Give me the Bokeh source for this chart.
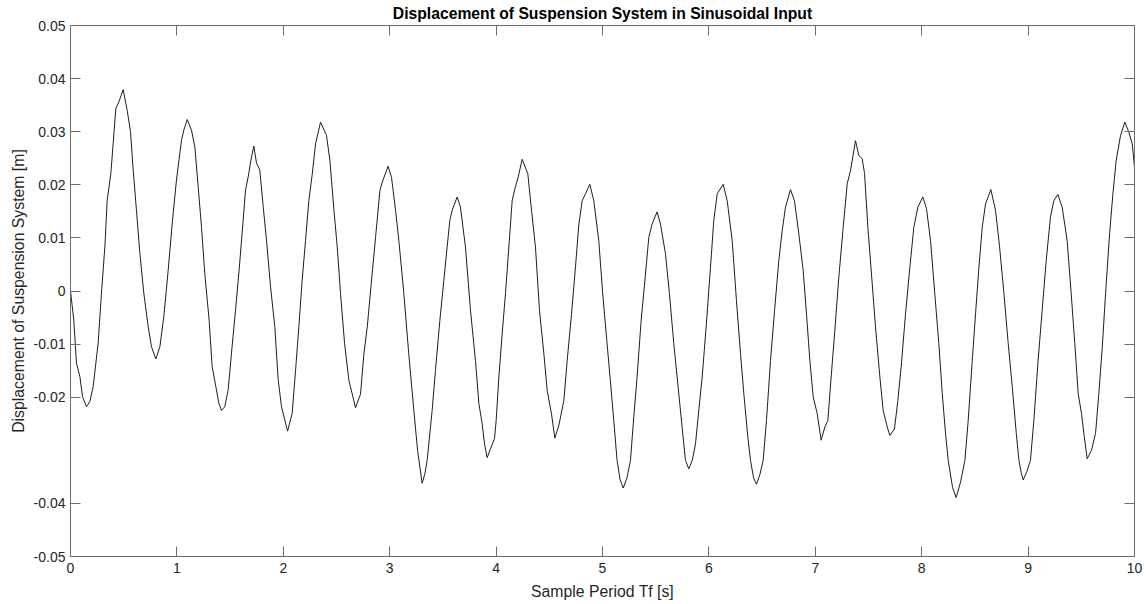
from bokeh.plotting import figure
from bokeh.models import Range1d, LinearAxis, FixedTicker, CustomLabelingPolicy
from bokeh.embed import file_html
from bokeh.resources import INLINE

title_text = "Displacement of Suspension System in Sinusoidal Input"
x_label = "Sample Period Tf [s]"
y_label = "Displacement of Suspension System [m]"

x_ticks = [0, 1, 2, 3, 4, 5, 6, 7, 8, 9, 10]
x_tick_labels = ["0", "1", "2", "3", "4", "5", "6", "7", "8", "9", "10"]
y_ticks = [-0.05, -0.04, -0.02, -0.01, 0.0, 0.01, 0.02, 0.03, 0.04, 0.05]
y_tick_labels = ["-0.05", "-0.04", "-0.02", "-0.01", "0", "0.01", "0.02", "0.03", "0.04", "0.05"]

time_s = [
    0.000, 0.031, 0.056, 0.088, 0.113, 0.150, 0.182, 0.213, 0.260, 0.291,
    0.323, 0.345, 0.379, 0.401, 0.426, 0.454, 0.495, 0.533, 0.564, 0.589,
    0.620, 0.652, 0.689, 0.730, 0.761, 0.802, 0.840, 0.877, 0.918, 0.959,
    0.996, 1.043, 1.065, 1.097, 1.137, 1.169, 1.200, 1.231, 1.262, 1.303,
    1.331, 1.366, 1.394, 1.419, 1.450, 1.482, 1.513, 1.551, 1.585, 1.623,
    1.645, 1.670, 1.695, 1.723, 1.748, 1.779, 1.811, 1.842, 1.880, 1.920,
    1.952, 1.983, 2.040, 2.083, 2.115, 2.146, 2.177, 2.209, 2.240, 2.272,
    2.303, 2.350, 2.406, 2.438, 2.476, 2.507, 2.538, 2.576, 2.617, 2.648,
    2.679, 2.726, 2.757, 2.789, 2.826, 2.867, 2.908, 2.930, 2.985, 3.017,
    3.055, 3.086, 3.133, 3.179, 3.227, 3.262, 3.305, 3.330, 3.352, 3.399,
    3.430, 3.471, 3.509, 3.540, 3.565, 3.587, 3.634, 3.665, 3.712, 3.759,
    3.806, 3.838, 3.869, 3.891, 3.916, 3.948, 3.985, 4.000, 4.026, 4.057,
    4.088, 4.120, 4.151, 4.176, 4.207, 4.245, 4.298, 4.333, 4.370, 4.408,
    4.449, 4.480, 4.521, 4.552, 4.590, 4.637, 4.668, 4.709, 4.746, 4.778,
    4.809, 4.840, 4.881, 4.918, 4.965, 5.002, 5.043, 5.074, 5.106, 5.137,
    5.165, 5.194, 5.230, 5.263, 5.294, 5.325, 5.363, 5.404, 5.435, 5.466,
    5.513, 5.545, 5.592, 5.629, 5.670, 5.711, 5.748, 5.780, 5.811, 5.845,
    5.874, 5.905, 5.937, 5.974, 6.015, 6.046, 6.078, 6.134, 6.172, 6.219,
    6.259, 6.297, 6.328, 6.366, 6.391, 6.420, 6.447, 6.480, 6.510, 6.541,
    6.579, 6.617, 6.657, 6.689, 6.720, 6.767, 6.804, 6.845, 6.886, 6.917,
    6.949, 6.980, 7.018, 7.055, 7.090, 7.118, 7.149, 7.181, 7.221, 7.262,
    7.300, 7.331, 7.378, 7.409, 7.441, 7.463, 7.494, 7.528, 7.566, 7.607,
    7.638, 7.676, 7.701, 7.744, 7.776, 7.807, 7.848, 7.889, 7.926, 7.964,
    8.011, 8.045, 8.083, 8.123, 8.161, 8.193, 8.224, 8.249, 8.290, 8.324,
    8.365, 8.406, 8.437, 8.475, 8.506, 8.538, 8.569, 8.600, 8.650, 8.694,
    8.732, 8.773, 8.813, 8.851, 8.889, 8.914, 8.935, 8.954, 8.988, 9.022,
    9.054, 9.094, 9.132, 9.170, 9.210, 9.242, 9.279, 9.320, 9.367, 9.405,
    9.439, 9.471, 9.502, 9.524, 9.555, 9.596, 9.634, 9.665, 9.697, 9.728,
    9.766, 9.797, 9.828, 9.869, 9.909, 9.947, 9.979, 10.000,
]

displacement_m = [
    0.0000, -0.0055, -0.0136, -0.0161, -0.0199, -0.0218, -0.0208, -0.0180, -0.0098, -0.0004,
    0.0083, 0.0171, 0.0221, 0.0278, 0.0344, 0.0356, 0.0379, 0.0340, 0.0300, 0.0228,
    0.0152, 0.0071, -0.0004, -0.0067, -0.0105, -0.0128, -0.0105, -0.0048, 0.0039, 0.0134,
    0.0209, 0.0284, 0.0303, 0.0323, 0.0303, 0.0271, 0.0196, 0.0121, 0.0033, -0.0055,
    -0.0142, -0.0180, -0.0211, -0.0225, -0.0218, -0.0186, -0.0117, -0.0036, 0.0040, 0.0134,
    0.0190, 0.0215, 0.0246, 0.0273, 0.0241, 0.0228, 0.0159, 0.0096, 0.0008, -0.0067,
    -0.0167, -0.0218, -0.0264, -0.0231, -0.0150, -0.0068, 0.0020, 0.0095, 0.0170, 0.0220,
    0.0277, 0.0318, 0.0293, 0.0246, 0.0152, 0.0083, -0.0005, -0.0099, -0.0169, -0.0194,
    -0.0220, -0.0194, -0.0119, -0.0068, 0.0013, 0.0101, 0.0189, 0.0205, 0.0235, 0.0214,
    0.0152, 0.0095, -0.0005, -0.0118, -0.0225, -0.0300, -0.0362, -0.0345, -0.0319, -0.0225,
    -0.0150, -0.0056, 0.0020, 0.0083, 0.0133, 0.0152, 0.0177, 0.0158, 0.0083, -0.0036,
    -0.0131, -0.0212, -0.0250, -0.0288, -0.0314, -0.0297, -0.0278, -0.0245, -0.0162, -0.0081,
    -0.0005, 0.0083, 0.0170, 0.0192, 0.0214, 0.0248, 0.0221, 0.0152, 0.0083, -0.0037,
    -0.0118, -0.0187, -0.0232, -0.0277, -0.0253, -0.0206, -0.0131, -0.0043, 0.0045, 0.0126,
    0.0170, 0.0183, 0.0201, 0.0170, 0.0095, -0.0005, -0.0099, -0.0169, -0.0244, -0.0319,
    -0.0355, -0.0371, -0.0352, -0.0319, -0.0237, -0.0162, -0.0056, 0.0032, 0.0101, 0.0126,
    0.0149, 0.0126, 0.0070, -0.0005, -0.0099, -0.0181, -0.0256, -0.0319, -0.0335, -0.0318,
    -0.0288, -0.0225, -0.0162, -0.0068, 0.0045, 0.0133, 0.0183, 0.0201, 0.0170, 0.0095,
    -0.0018, -0.0118, -0.0193, -0.0275, -0.0319, -0.0352, -0.0364, -0.0345, -0.0319, -0.0244,
    -0.0131, -0.0037, 0.0057, 0.0114, 0.0158, 0.0191, 0.0170, 0.0108, 0.0039, -0.0043,
    -0.0131, -0.0199, -0.0231, -0.0281, -0.0256, -0.0244, -0.0162, -0.0081, 0.0026, 0.0120,
    0.0202, 0.0227, 0.0283, 0.0255, 0.0249, 0.0221, 0.0120, 0.0032, -0.0068, -0.0162,
    -0.0225, -0.0256, -0.0272, -0.0260, -0.0206, -0.0143, -0.0043, 0.0045, 0.0120, 0.0158,
    0.0177, 0.0155, 0.0095, -0.0005, -0.0099, -0.0193, -0.0268, -0.0319, -0.0370, -0.0389,
    -0.0360, -0.0319, -0.0244, -0.0131, -0.0043, 0.0045, 0.0120, 0.0164, 0.0191, 0.0152,
    0.0083, -0.0005, -0.0099, -0.0180, -0.0268, -0.0319, -0.0342, -0.0356, -0.0340, -0.0319,
    -0.0244, -0.0131, -0.0037, 0.0057, 0.0139, 0.0170, 0.0182, 0.0158, 0.0095, -0.0005,
    -0.0099, -0.0193, -0.0231, -0.0268, -0.0316, -0.0300, -0.0268, -0.0193, -0.0106, -0.0005,
    0.0108, 0.0183, 0.0246, 0.0293, 0.0318, 0.0299, 0.0277, 0.0233,
]

FONT = "Liberation Sans"
TEXT_COL = "#262626"
AXIS_COL = "#6e6e6e"

p = figure(
    frame_width=1064, frame_height=531,
    x_range=Range1d(0, 10), y_range=Range1d(-0.05, 0.05),
    output_backend="svg", toolbar_location=None,
    min_border_left=70, min_border_right=14, min_border_top=25, min_border_bottom=48,
    background_fill_color="white", border_fill_color="white",
)
p.outline_line_color = None
p.grid.visible = False

p.title.text = title_text
p.title.align = "center"
p.title.vertical_align = "top"
p.title.text_font = FONT
p.title.text_font_size = "15.7px"
p.title.text_font_style = "bold"
p.title.text_color = "black"
p.title.standoff = 3
p.title.offset = 0

no_labels = CustomLabelingPolicy(code="""
const n = indices.size;
for (let i = 0; i < n; i++) { indices.unset(i) }
return indices
""")

def style_axis(ax, show_labels):
    ax.axis_line_color = AXIS_COL
    ax.axis_line_width = 1
    ax.major_tick_line_color = AXIS_COL
    ax.major_tick_in = 10
    ax.major_tick_out = 0
    ax.minor_tick_line_color = None
    ax.major_label_text_font = FONT
    ax.major_label_text_font_size = "14px" if show_labels else "0px"
    ax.major_label_text_color = TEXT_COL
    ax.axis_label_text_font = FONT
    ax.axis_label_text_font_size = "15.8px"
    ax.axis_label_text_font_style = "normal"
    ax.axis_label_text_color = TEXT_COL
    if not show_labels:
        ax.major_label_policy = no_labels

xa = p.xaxis[0]
ya = p.yaxis[0]
xa.ticker = FixedTicker(ticks=x_ticks)
ya.ticker = FixedTicker(ticks=y_ticks)
xa.major_label_overrides = {t: l for t, l in zip(x_ticks, x_tick_labels)}
ya.major_label_overrides = {t: l for t, l in zip(y_ticks, y_tick_labels)}
style_axis(xa, True)
style_axis(ya, True)
xa.axis_label = x_label
ya.axis_label = y_label
xa.major_label_standoff = 6
xa.axis_label_standoff = 7
ya.major_label_standoff = 5
ya.axis_label_standoff = 4

top = LinearAxis(ticker=FixedTicker(ticks=x_ticks), major_label_standoff=0)
right = LinearAxis(ticker=FixedTicker(ticks=y_ticks), major_label_standoff=0)
style_axis(top, False)
style_axis(right, False)
p.add_layout(top, "above")
p.add_layout(right, "right")

p.line(time_s, displacement_m, line_color="#1e1e1e", line_width=1)

open("out.html", "w").write(file_html(p, INLINE))
